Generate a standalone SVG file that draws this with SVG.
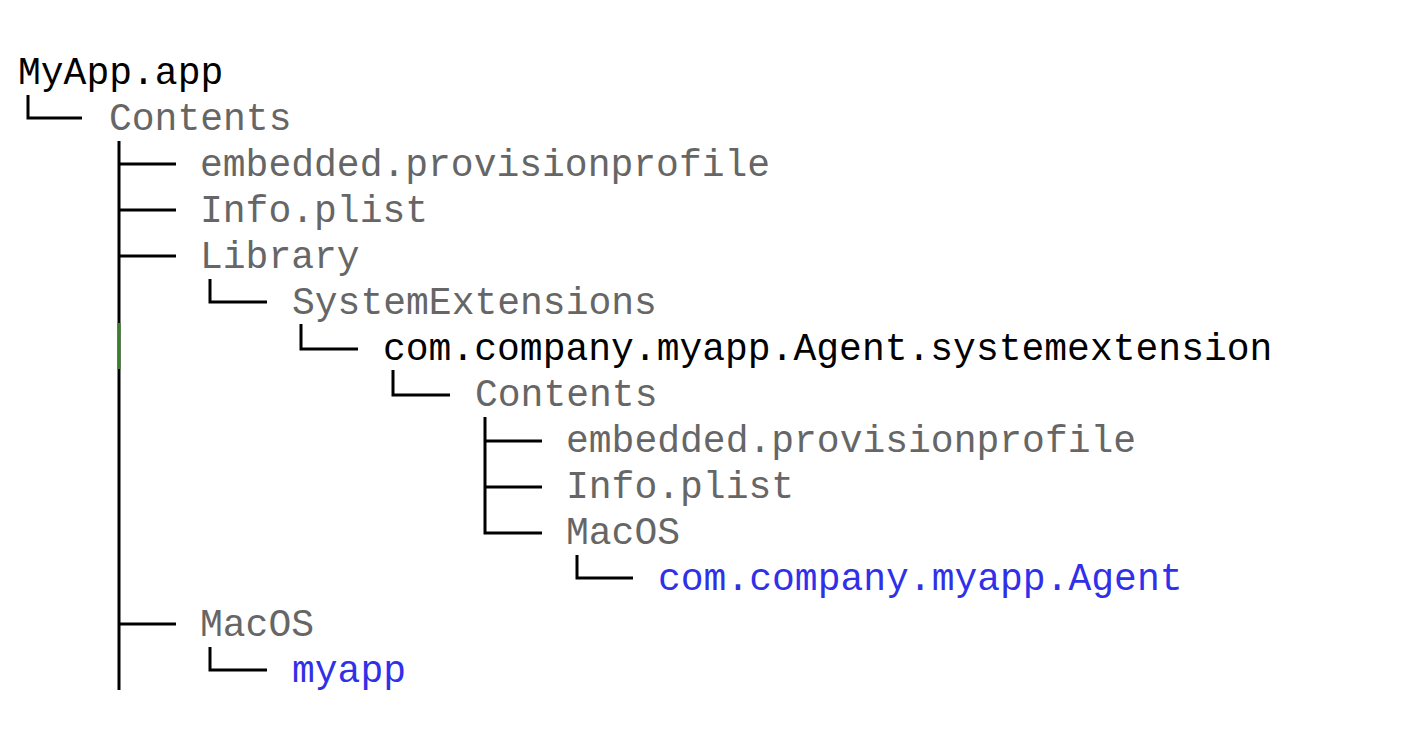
<svg xmlns="http://www.w3.org/2000/svg" width="1420" height="748" viewBox="0 0 1420 748">
<style>
text{font-family:"Liberation Mono","DejaVu Sans Mono",monospace;font-size:38px}
.k{fill:#000}
.g{fill:#666}
.b{fill:#3030e8}
.c{fill:none;stroke:#000;stroke-width:3}
</style>
<rect width="1420" height="748" fill="#fff"/>
<g id="connectors">
<path class="c" d="M28,95V118H82"/>
<path class="c" d="M119,141V690M119,164H176M119,210H176M119,256H176M119,624H176"/>
<path d="M119,323V369" stroke="#3a7d2a" stroke-width="3"/>
<path class="c" d="M210,279V302H267"/>
<path class="c" d="M301,324V349H358"/>
<path class="c" d="M393,370V395H450"/>
<path class="c" d="M485,417V533H542M485,441H542M485,487H542"/>
<path class="c" d="M577,555V578H633"/>
<path class="c" d="M210,647V670H267"/>
</g>
<g id="n0"><text class="k" x="18" y="84">MyApp.app</text></g>
<g id="n1"><text class="g" x="109" y="130">Contents</text></g>
<g id="n2"><text class="g" x="200" y="176">embedded.provisionprofile</text></g>
<g id="n3"><text class="g" x="200" y="222">Info.plist</text></g>
<g id="n4"><text class="g" x="200" y="268">Library</text></g>
<g id="n5"><text class="g" x="292" y="314">SystemExtensions</text></g>
<g id="n6"><text class="k" x="383" y="360">com.company.myapp.Agent.systemextension</text></g>
<g id="n7"><text class="g" x="475" y="406">Contents</text></g>
<g id="n8"><text class="g" x="566" y="452">embedded.provisionprofile</text></g>
<g id="n9"><text class="g" x="566" y="498">Info.plist</text></g>
<g id="n10"><text class="g" x="566" y="544">MacOS</text></g>
<g id="n11"><text class="b" x="658" y="590">com.company.myapp.Agent</text></g>
<g id="n12"><text class="g" x="200" y="636">MacOS</text></g>
<g id="n13"><text class="b" x="292" y="682">myapp</text></g>
</svg>
